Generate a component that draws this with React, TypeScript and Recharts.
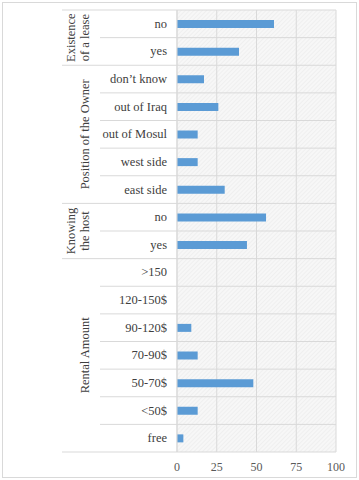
import { BarChart, Bar, XAxis, YAxis, CartesianGrid } from "recharts";

// rows top to bottom
const groups = ["Existence of a lease", "Position of the Owner", "Knowing the host", "Rental Amount"];
const groupLines = [["Existence", "of a lease"], ["Position of the Owner"], ["Knowing", "the host"], ["Rental Amount"]];
const rowGroup = [0, 0, 1, 1, 1, 1, 1, 2, 2, 3, 3, 3, 3, 3, 3, 3];
const labels = ["no", "yes", "don’t know", "out of Iraq", "out of Mosul", "west side", "east side", "no", "yes", ">150", "120-150$", "90-120$", "70-90$", "50-70$", "<50$", "free"];
const values = [61, 39, 17, 26, 13, 13, 30, 56, 44, 0, 0, 9, 13, 48, 13, 4];
const xTicks = [0, 25, 50, 75, 100];

const data = labels.map((label, i) => ({ key: `${groups[rowGroup[i]]}|${label}|${i}`, label, value: values[i] }));

const W = 359;
const H = 480;
const X_AXIS_H = 28;
const M = { top: 10, right: 23, bottom: 0, left: 0 };
const AXIS_W = 177;
const PLOT_RIGHT = W - M.right;
const ROW_H = (H - M.top - X_AXIS_H) / labels.length;
const LINE = "#d9d9d9";
const FONT = "Liberation Serif";

function CategoryTick(props: any) {
	const { y, index } = props;
	const i = index as number;
	const g = rowGroup[i];
	const top = y - ROW_H / 2;
	const bottom = y + ROW_H / 2;
	const lastInGroup = i === labels.length - 1 || rowGroup[i + 1] !== g;
	const firstInGroup = i === 0 || rowGroup[i - 1] !== g;
	const count = rowGroup.filter((r) => r === g).length;
	const lines = groupLines[g];
	return (
		<g>
			{i === 0 && <line x1={62} x2={PLOT_RIGHT} y1={top} y2={top} stroke={LINE} />}
			<line x1={lastInGroup ? 62 : 100} x2={PLOT_RIGHT} y1={bottom} y2={bottom} stroke={LINE} />
			<text x={167} y={y} textAnchor="end" dominantBaseline="central" fontFamily={FONT} fontSize={12.5} fill="#404040">
				{labels[i]}
			</text>
			{firstInGroup &&
				lines.map((t, k) => {
					const cx = lines.length === 1 ? 85 : 71 + k * 14;
					const cy = top + (count * ROW_H) / 2;
					return (
						<text
							key={k}
							x={cx}
							y={cy}
							transform={`rotate(-90 ${cx} ${cy})`}
							textAnchor="middle"
							dominantBaseline="central"
							fontFamily={FONT}
							fontSize={12.5}
							fill="#404040"
						>
							{t}
						</text>
					);
				})}
		</g>
	);
}

function ValueTick(props: any) {
	const { x, y, payload } = props;
	return (
		<text x={x} y={y} textAnchor="middle" dy="0.71em" fontFamily={FONT} fontSize={12} fill="#595959">
			{payload.value}
		</text>
	);
}

export default function App() {
	return (
		<div style={{ position: "fixed", left: 0, top: 0, width: W, height: H, background: "#fff" }}>
			<div style={{ position: "absolute", left: 2, top: 2, width: W - 6, height: H - 6, border: `1px solid ${LINE}` }} />
			<div style={{ position: "absolute", left: 0, top: 0 }}>
				<BarChart width={W} height={H} data={data} layout="vertical" margin={M}>
					<defs>
						<pattern id="hatch" width="3" height="3" patternUnits="userSpaceOnUse" patternTransform="rotate(45)">
							<rect width="3" height="3" fill="#f7f7f7" />
							<line x1="0" y1="0" x2="0" y2="3" stroke="#e8e8e8" strokeWidth="1" />
						</pattern>
					</defs>
					<CartesianGrid horizontal={false} stroke={LINE} fill="url(#hatch)" fillOpacity={1} />
					<XAxis
						type="number"
						domain={[0, 100]}
						ticks={xTicks}
						height={X_AXIS_H}
						axisLine={false}
						tickLine={false}
						tickMargin={4}
						tick={<ValueTick />}
						interval={0}
					/>
					<YAxis
						type="category"
						dataKey="key"
						width={AXIS_W}
						axisLine={{ stroke: LINE }}
						tickLine={false}
						interval={0}
						tick={<CategoryTick />}
					/>
					<Bar dataKey="value" fill="#5b9bd5" barSize={8} isAnimationActive={false} />
				</BarChart>
			</div>
		</div>
	);
}
